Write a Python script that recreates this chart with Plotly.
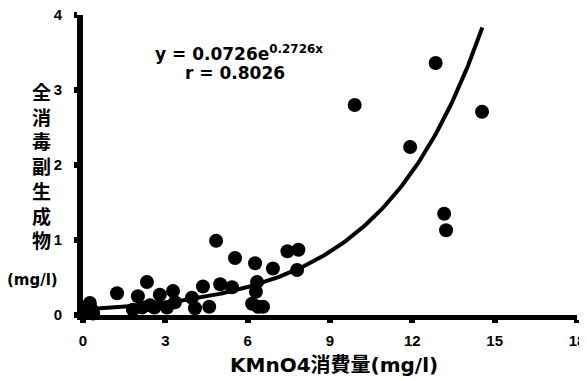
import numpy as np
import plotly.graph_objects as go

# Observed data (KMnO4 consumption vs total disinfection by-products)
kmno4 = [0.10, 0.15, 0.25, 0.37, 0.30, 1.24, 1.82, 2.00, 2.33, 2.44, 2.15, 2.60,
         2.80, 3.06, 3.28, 3.35, 3.97, 4.08, 4.37, 4.60, 4.85, 5.00, 5.43, 5.54,
         6.16, 6.27, 6.34, 6.30, 6.38, 6.56, 6.92, 7.45, 7.85, 7.80, 9.90, 11.92,
         12.85, 13.16, 13.23, 14.54]
dbp = [0.10, 0.05, 0.16, 0.02, 0.08, 0.29, 0.07, 0.25, 0.44, 0.13, 0.10, 0.10,
       0.27, 0.10, 0.32, 0.17, 0.23, 0.09, 0.38, 0.11, 0.99, 0.41, 0.37, 0.76,
       0.15, 0.69, 0.44, 0.31, 0.11, 0.11, 0.62, 0.85, 0.87, 0.60, 2.80, 2.24,
       3.36, 1.35, 1.13, 2.71]

# Fitted curve y = a * exp(b x)
fit_a = 0.0726
fit_b = 0.2726
fit_xmax = 14.55

x_ticks = [0, 3, 6, 9, 12, 15, 18]
y_ticks = [0, 1, 2, 3, 4]
y_title_chars = ["全", "消", "毒", "副", "生", "成", "物"]

xf = np.linspace(0, fit_xmax, 200)
yf = fit_a * np.exp(fit_b * xf)

FONT = "Liberation Sans"
WIDE = "DejaVu Sans"
CJK = "DejaVu Sans, Noto Sans CJK JP"

fig = go.Figure()
fig.add_trace(go.Scatter(x=xf, y=yf, mode="lines",
                         line=dict(color="black", width=4), cliponaxis=False,
                         hoverinfo="skip"))
fig.add_trace(go.Scatter(x=kmno4, y=dbp, mode="markers",
                         marker=dict(color="black", size=14), cliponaxis=False))

# page body has an 8px default margin, so the figure is sized/offset to fit
fig.update_layout(
    width=579, height=373,
    margin=dict(l=75, r=10, t=7, b=66),
    paper_bgcolor="white", plot_bgcolor="white",
    showlegend=False,
    font=dict(family=FONT, color="black"),
)
fig.update_xaxes(range=[0, 18], tickvals=x_ticks, showgrid=False, zeroline=False,
                 automargin=False, ticklabeloverflow="allow",
                 showline=True, linecolor="black", linewidth=5,
                 ticks="outside", ticklen=3, tickwidth=6, tickcolor="black",
                 tickfont=dict(family=FONT, size=15, weight="bold"), ticklabelstandoff=5)
fig.update_yaxes(range=[0, 4], tickvals=y_ticks, showgrid=False, zeroline=False,
                 automargin=False, ticklabeloverflow="allow",
                 showline=True, linecolor="black", linewidth=6,
                 ticks="outside", ticklen=3, tickwidth=6, tickcolor="black",
                 tickfont=dict(family=FONT, size=15, weight="bold"), ticklabelstandoff=9)

fig.add_annotation(xref="x", yref="y", x=5.69, y=3.5, showarrow=False,
                   xanchor="center", yanchor="middle",
                   text="y = 0.0726e<sup>0.2726x</sup>",
                   font=dict(family=WIDE, size=17, weight="bold"))
fig.add_annotation(xref="x", yref="y", x=5.55, y=3.23, showarrow=False,
                   xanchor="center", yanchor="middle",
                   text="r = 0.8026",
                   font=dict(family=WIDE, size=17, weight="bold"))
fig.add_annotation(xref="paper", yref="y", x=-0.083, y=2.0, showarrow=False,
                   xanchor="center", yanchor="middle",
                   text="<br>".join(y_title_chars),
                   font=dict(family="Noto Sans CJK JP", size=19, weight="bold"))
fig.add_annotation(xref="paper", yref="y", x=-0.103, y=0.47, showarrow=False,
                   xanchor="center", yanchor="middle",
                   text="(mg/l)",
                   font=dict(family=WIDE, size=15, weight="bold"))
fig.add_annotation(xref="x", yref="paper", x=9.15, y=-0.167, showarrow=False,
                   xanchor="center", yanchor="middle",
                   text="KMnO4消費量(mg/l)",
                   font=dict(family=CJK, size=20, weight="bold"))

fig.write_html("out.html")
